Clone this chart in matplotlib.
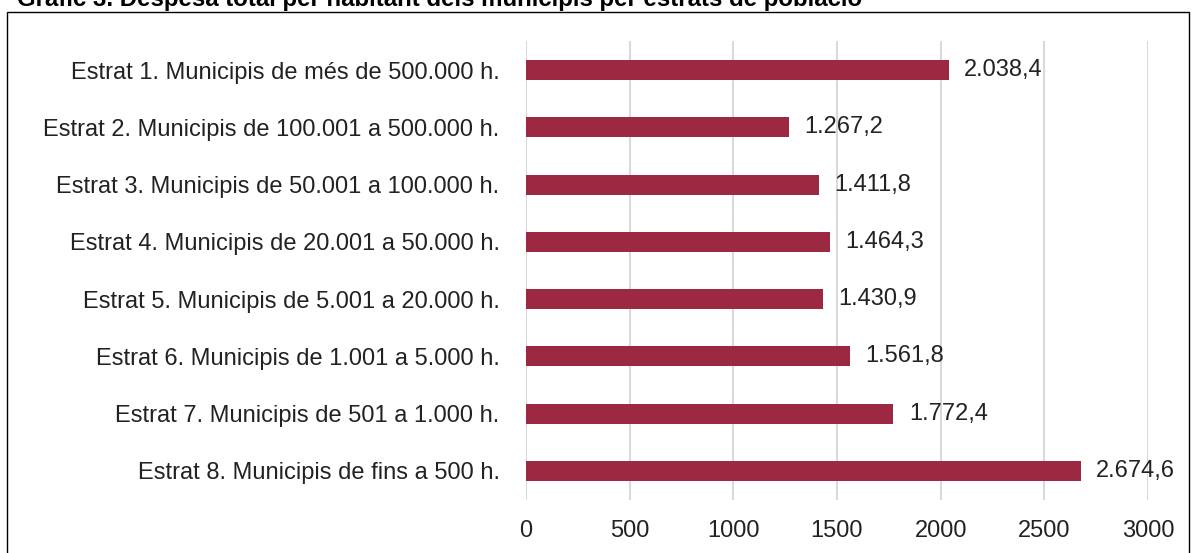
import matplotlib.pyplot as plt

plt.rcParams['font.family'] = ['Liberation Sans', 'DejaVu Sans']

# Data
categories = [
    'Estrat 1. Municipis de més de 500.000 h.',
    'Estrat 2. Municipis de 100.001 a 500.000 h.',
    'Estrat 3. Municipis de 50.001 a 100.000 h.',
    'Estrat 4. Municipis de 20.001 a 50.000 h.',
    'Estrat 5. Municipis de 5.001 a 20.000 h.',
    'Estrat 6. Municipis de 1.001 a 5.000 h.',
    'Estrat 7. Municipis de 501 a 1.000 h.',
    'Estrat 8. Municipis de fins a 500 h.',
]
values = [2038.4, 1267.2, 1411.8, 1464.3, 1430.9, 1561.8, 1772.4, 2674.6]
xticks = [0, 500, 1000, 1500, 2000, 2500, 3000]


def fmt(v):
    # Catalan format: dot for thousands, comma for decimals
    s = f'{v:,.1f}'
    return s.replace(',', 'X').replace('.', ',').replace('X', '.')


W, H = 1193, 553
fig = plt.figure(figsize=(W / 100, H / 100), dpi=100)

# outer frame and (cut-off) title
fig.patches.append(plt.Rectangle((7 / W, -0.1), (1189 - 7) / W, (H - 12) / H + 0.1,
                                 transform=fig.transFigure, fill=False,
                                 edgecolor='#000000', linewidth=1.0))
fig.text(17 / W, 1 - 6 / H, 'Gràfic 3. Despesa total per habitant dels municipis per estrats de població',
         fontsize=17.3, fontweight='bold', va='baseline', ha='left')

left, right = 526 / W, 1148 / W
top, bottom = 1 - 41.4 / H, 1 - 499.6 / H
ax = fig.add_axes([left, bottom, right - left, top - bottom])

y = list(range(len(categories)))
ax.barh(y, values, height=0.35, color='#9C2842', zorder=3)
for yi, v in zip(y, values):
    ax.text(v + 75, yi, fmt(v), va='center', ha='left', fontsize=17, color='#222222')

ax.set_xlim(0, 3000)
ax.set_ylim(len(categories) - 0.5, -0.5)
ax.set_xticks(xticks)
ax.set_xticklabels([str(t) for t in xticks])
ax.set_yticks(y)
ax.set_yticklabels(categories)
ax.tick_params(axis='both', length=0, labelsize=17, colors='#222222')
ax.tick_params(axis='y', pad=19)
ax.tick_params(axis='x', pad=14.5)
ax.grid(axis='x', color='#d9d9d9', linewidth=1.5, zorder=0)
for s in ax.spines.values():
    s.set_visible(False)

fig.savefig('out.png', dpi=100)
